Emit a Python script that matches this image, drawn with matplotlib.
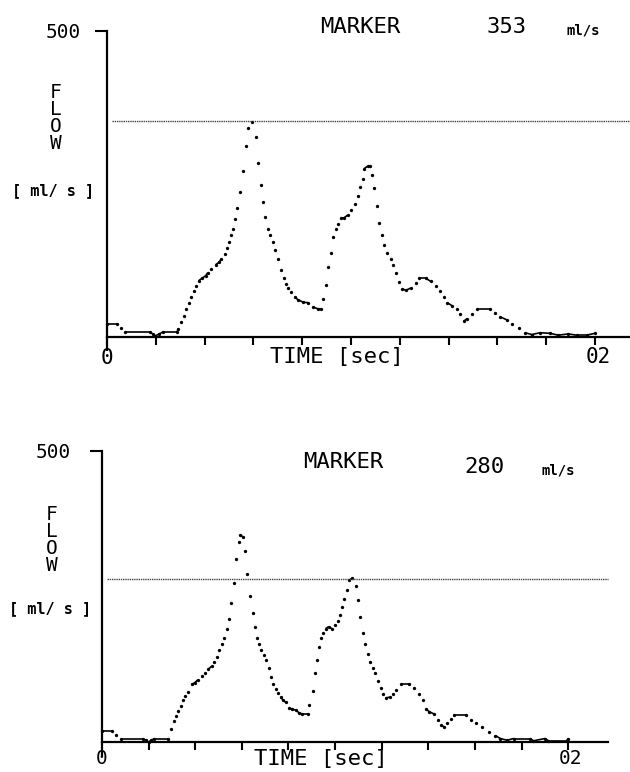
import matplotlib
matplotlib.use('Agg')
import matplotlib.pyplot as plt
import numpy as np
from matplotlib.collections import LineCollection

# flow curves (time in sec, flow in ml/s)
t_top = [0.0, 0.0039, 0.0056, 0.0073, 0.0176, 0.0187, 0.0197, 0.0214, 0.0231, 0.0287,
         0.0293, 0.0303, 0.0314, 0.0325, 0.0335, 0.0344, 0.0355, 0.0366, 0.0376, 0.0390,
         0.0404, 0.0413, 0.0427, 0.0445, 0.0459, 0.0468, 0.0482, 0.0490, 0.0500, 0.0510,
         0.0518, 0.0526, 0.0534, 0.0545, 0.0559, 0.0569, 0.0580, 0.0596, 0.0610, 0.0617,
         0.0631, 0.0638, 0.0649, 0.0658, 0.0668, 0.0679, 0.0689, 0.0700, 0.0714, 0.0725,
         0.0734, 0.0744, 0.0755, 0.0769, 0.0782, 0.0803, 0.0824, 0.0844, 0.0865, 0.0879,
         0.0884, 0.0898, 0.0907, 0.0918, 0.0928, 0.0939, 0.0948, 0.0959, 0.0973, 0.0986,
         0.1000, 0.1016, 0.1027, 0.1037, 0.1048, 0.1054, 0.1068, 0.1078, 0.1088, 0.1095,
         0.1106, 0.1116, 0.1127, 0.1136, 0.1147, 0.1163, 0.1174, 0.1186, 0.1197, 0.1211,
         0.1224, 0.1245, 0.1265, 0.1279, 0.1306, 0.1327, 0.1347, 0.1367, 0.1381, 0.1395,
         0.1415, 0.1435, 0.1449, 0.1463, 0.1476, 0.1497, 0.1517, 0.1571, 0.1592, 0.1612,
         0.1639, 0.1660, 0.1687, 0.1714, 0.1741, 0.1776, 0.1816, 0.1850, 0.1891, 0.1925,
         0.1966, 0.2000]
v_top = [21, 21, 15, 8.6, 8.6, 5, 1.6, 5, 8.6, 8.6,
         13.5, 24, 35, 46, 56, 65, 75, 84, 92, 96,
         100, 105, 111, 118, 122, 127, 136, 145, 156, 166,
         177, 193, 211, 237, 272, 312, 342, 352, 326, 285,
         249, 221, 196, 177, 166, 156, 142, 127, 110, 96,
         86, 80, 73, 66, 61, 57, 56, 49, 46, 46,
         62, 85, 115, 138, 163, 176, 185, 194, 195, 199,
         207, 217, 230, 245, 258, 275, 279, 279, 265, 243,
         214, 186, 166, 150, 137, 127, 117, 104, 90, 79,
         76, 80, 88, 96, 96, 91, 84, 75, 66, 56,
         51, 45, 37, 26, 30, 37, 46, 46, 39, 33,
         28, 22, 15, 7, 4, 7, 6, 3, 5, 3,
         3, 6]

t_bot = [0.0, 0.0043, 0.0062, 0.0080, 0.0174, 0.0187, 0.0200, 0.0212, 0.0224, 0.0282,
         0.0296, 0.0308, 0.0318, 0.0328, 0.0340, 0.0347, 0.0357, 0.0369, 0.0386, 0.0398,
         0.0412, 0.0427, 0.0444, 0.0456, 0.0470, 0.0482, 0.0493, 0.0502, 0.0513, 0.0525,
         0.0535, 0.0545, 0.0554, 0.0565, 0.0574, 0.0586, 0.0593, 0.0603, 0.0615, 0.0622,
         0.0635, 0.0647, 0.0658, 0.0665, 0.0673, 0.0684, 0.0694, 0.0704, 0.0716, 0.0726,
         0.0735, 0.0745, 0.0755, 0.0766, 0.0777, 0.0788, 0.0803, 0.0817, 0.0831, 0.0846,
         0.0860, 0.0882, 0.0889, 0.0904, 0.0915, 0.0923, 0.0932, 0.0940, 0.0950, 0.0960,
         0.0972, 0.0986, 0.1000, 0.1011, 0.1021, 0.1028, 0.1040, 0.1050, 0.1060, 0.1072,
         0.1089, 0.1099, 0.1109, 0.1121, 0.1130, 0.1142, 0.1152, 0.1163, 0.1173, 0.1184,
         0.1196, 0.1206, 0.1220, 0.1234, 0.1248, 0.1262, 0.1284, 0.1319, 0.1340, 0.1362,
         0.1376, 0.1390, 0.1404, 0.1426, 0.1440, 0.1454, 0.1468, 0.1482, 0.1496, 0.1511,
         0.1560, 0.1582, 0.1603, 0.1631, 0.1660, 0.1688, 0.1709, 0.1738, 0.1766, 0.1837,
         0.1851, 0.1901, 0.1915, 0.1993, 0.2000]
v_bot = [19, 19, 12, 5.7, 5.7, 3, 0, 3, 5.7, 5.7,
         22, 36, 45, 53, 62, 73, 79, 86, 99, 102,
         107, 113, 119, 125, 130, 138, 146, 158, 168, 178,
         195, 212, 238, 274, 314, 344, 356, 353, 328, 288,
         251, 221, 198, 178, 168, 158, 149, 141, 128, 112,
         99, 91, 84, 77, 72, 68, 59, 56, 55, 50,
         48, 48, 63, 87, 118, 141, 164, 178, 188, 195,
         198, 195, 201, 208, 218, 232, 246, 261, 278, 281,
         268, 244, 215, 188, 168, 151, 138, 128, 118, 104,
         92, 83, 76, 77, 83, 89, 99, 99, 92, 83,
         72, 57, 52, 48, 37, 29, 26, 32, 39, 46,
         46, 38, 32, 25, 17, 11, 6, 3, 6, 6,
         2, 6, 2, 2, 6]

marker_top = 353
marker_bot = 280

W, H = 630, 772
MONO = 'DejaVu Sans Mono'


def px(x, y):  # pixel position -> figure fraction
    return x / W, 1 - y / H


def panel(rect, t, v, marker, xmax):
    ax = fig.add_axes(rect)
    ax.set_xlim(0, xmax)
    ax.set_ylim(0, 500)

    # samples as dots, flat stretches look like a solid trace
    ax.plot(t, v, 'o', color='black', ms=2.4, mew=0, clip_on=False)
    segs = []
    for i in range(len(t) - 1):
        if abs(v[i + 1] - v[i]) <= 5:
            segs.append([(t[i], v[i]), (t[i + 1], v[i + 1])])
    ax.add_collection(LineCollection(segs, colors='black', linewidths=1.2))

    # marker level
    ax.plot([0.002, xmax], [marker, marker], color='#444444', lw=1.0,
            linestyle=(0, (1, 0.6)), clip_on=False)

    for s in ['top', 'right']:
        ax.spines[s].set_visible(False)
    ax.spines['left'].set_linewidth(1.6)
    ax.spines['bottom'].set_linewidth(1.6)

    ax.set_xticks(np.arange(0.02, 0.201, 0.02))
    ax.set_xticklabels([])
    ax.set_xticks([0], minor=True)
    ax.tick_params(axis='x', which='major', direction='out', length=6, width=1.5)
    ax.tick_params(axis='x', which='minor', direction='out', length=10, width=1.6)
    ax.set_yticks([500])
    ax.set_yticklabels([])
    ax.tick_params(axis='y', direction='out', length=9, width=1.5)
    return ax


fig = plt.figure(figsize=(6.3, 7.72), dpi=100)

# top panel
x0, y0 = px(107, 337)
panel([x0, y0, 523 / W, (337 - 31) / H], t_top, v_top, marker_top, 0.2144)
fig.text(*px(63, 33), '500', family=MONO, fontsize=14, ha='center', va='center')
fig.text(*px(360, 27), 'MARKER', family=MONO, fontsize=16, ha='center', va='center')
fig.text(*px(507, 27), str(marker_top), family=MONO, fontsize=16, ha='center', va='center')
fig.text(*px(583, 30), 'ml/s', family=MONO, fontsize=10, ha='center', va='center',
         fontweight='bold')
fig.text(*px(56, 118), 'F\nL\nO\nW', family=MONO, fontsize=14, ha='center', va='center',
         linespacing=0.85)
fig.text(*px(53, 191), '[ ml/ s ]', family=MONO, fontsize=11, ha='center', va='center',
         fontweight='bold')
fig.text(*px(107, 358), '0', family=MONO, fontsize=15, ha='center', va='center')
fig.text(*px(337, 357), 'TIME [sec]', family=MONO, fontsize=16, ha='center', va='center')
fig.text(*px(598, 357), '02', family=MONO, fontsize=15, ha='center', va='center')

# bottom panel
x0, y0 = px(102, 742)
panel([x0, y0, 506 / W, (742 - 451) / H], t_bot, v_bot, marker_bot, 0.2171)
fig.text(*px(53, 452), '500', family=MONO, fontsize=14, ha='center', va='center')
fig.text(*px(343, 462), 'MARKER', family=MONO, fontsize=16, ha='center', va='center')
fig.text(*px(484, 467), str(marker_bot), family=MONO, fontsize=16, ha='center', va='center')
fig.text(*px(558, 471), 'ml/s', family=MONO, fontsize=10, ha='center', va='center',
         fontweight='bold')
fig.text(*px(52, 540), 'F\nL\nO\nW', family=MONO, fontsize=14, ha='center', va='center',
         linespacing=0.85)
fig.text(*px(50, 609), '[ ml/ s ]', family=MONO, fontsize=11, ha='center', va='center',
         fontweight='bold')
fig.text(*px(102, 759), '0', family=MONO, fontsize=14, ha='center', va='center')
fig.text(*px(321, 759), 'TIME [sec]', family=MONO, fontsize=16, ha='center', va='center')
fig.text(*px(570, 759), '02', family=MONO, fontsize=14, ha='center', va='center')

fig.savefig('out.png', dpi=100, facecolor='white')
